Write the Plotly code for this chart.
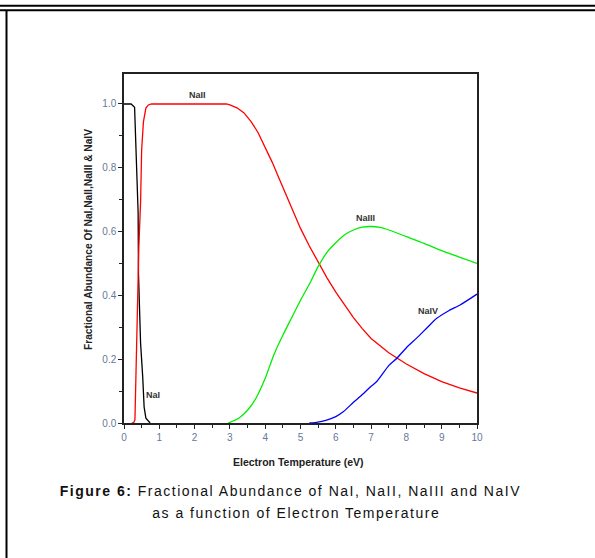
import plotly.graph_objects as go

# ---- data ----
nai_x = [0.0, 0.2, 0.3, 0.34, 0.40, 0.41, 0.45, 0.47, 0.53, 0.57, 0.62, 0.69, 0.74]
nai_y = [1.0, 1.0, 0.99, 0.88, 0.66, 0.47, 0.30, 0.25, 0.145, 0.05, 0.015, 0.004, 0.0]

naii_x = [0.22, 0.27, 0.31, 0.33, 0.38, 0.42, 0.47, 0.50, 0.55, 0.62, 0.69, 0.78, 1.5, 2.0, 2.5, 2.9,
          3.0, 3.2, 3.4, 3.6, 3.8, 4.0, 4.2, 4.4, 4.6, 4.8, 5.0, 5.25, 5.5, 5.75, 6.0, 6.25, 6.5,
          6.75, 7.0, 7.5, 8.0, 8.5, 9.0, 9.5, 10.0]
naii_y = [0.0, 0.0, 0.01, 0.12, 0.345, 0.55, 0.694, 0.856, 0.944, 0.987, 0.997, 1.0, 1.0, 1.0, 1.0, 1.0,
          0.997, 0.988, 0.972, 0.945, 0.91, 0.866, 0.817, 0.765, 0.712, 0.66, 0.61, 0.555, 0.505, 0.455,
          0.41, 0.368, 0.33, 0.296, 0.265, 0.22, 0.185, 0.155, 0.13, 0.11, 0.094]

naiii_x = [2.95, 3.0, 3.25, 3.5, 3.75, 4.0, 4.25, 4.5, 4.75, 5.0, 5.25, 5.5, 5.75, 6.0, 6.25, 6.5,
           6.75, 7.0, 7.25, 7.5, 8.0, 8.5, 9.0, 9.5, 10.0]
naiii_y = [0.0, 0.002, 0.015, 0.04, 0.08, 0.14, 0.215, 0.275, 0.33, 0.385, 0.435, 0.49, 0.535, 0.565,
           0.59, 0.605, 0.614, 0.616, 0.613, 0.605, 0.584, 0.563, 0.54, 0.52, 0.50]

naiv_x = [5.25, 5.45, 5.74, 6.0, 6.21, 6.5, 6.69, 7.0, 7.16, 7.5, 7.73, 8.0, 8.29, 8.6, 8.86, 9.2, 9.52, 10.0]
naiv_y = [0.0, 0.002, 0.009, 0.02, 0.035, 0.065, 0.083, 0.115, 0.13, 0.18, 0.203, 0.236, 0.266, 0.30,
          0.328, 0.352, 0.37, 0.404]

labels = ["NaI", "NaII", "NaIII", "NaIV"]
label_x = [0.82, 2.07, 6.83, 8.61]
label_y = [0.088, 1.028, 0.643, 0.351]

x_title = "Electron Temperature (eV)"
y_title = "Fractional Abundance Of NaI,NaII,NaIII & NaIV"
caption1 = "<b>Figure 6:</b> Fractional Abundance of NaI, NaII, NaIII and NaIV"
caption2 = "as a function of Electron Temperature"

# ---- figure ----
W, H = 595, 558
L, R, T, B = 124, 477, 74, 423  # plot area in pixels
FONT = "Liberation Sans, Arial, sans-serif"


def px(x):
    return (x - L) / (R - L)


def py(y):
    return (B - y) / (B - T)


fig = go.Figure()
series = [(nai_x, nai_y, "#000000", "linear"), (naii_x, naii_y, "#ff0000", "linear"),
          (naiii_x, naiii_y, "#00ee00", "spline"), (naiv_x, naiv_y, "#0000ff", "spline")]
for (xs, ys, c, shp), name in zip(series, labels):
    fig.add_trace(go.Scatter(x=xs, y=ys, mode="lines", name=name,
                             line=dict(color=c, width=1.3, shape=shp, smoothing=0.6),
                             showlegend=False))

tickfont = dict(family=FONT, size=10, color="#667799")
axis_common = dict(showgrid=False, zeroline=False, showline=True, linecolor="#222222",
                   linewidth=1.5, mirror=True, ticks="outside", ticklen=4, tickwidth=1.2,
                   tickcolor="#222222", tickfont=tickfont)
fig.update_xaxes(range=[0, 10], tickmode="linear", tick0=0, dtick=1,
                 minor=dict(dtick=0.5, ticks="outside", ticklen=3, tickwidth=1.2, tickcolor="#222222"),
                 **axis_common)
fig.update_yaxes(range=[0, 1.094], tickmode="array", tickvals=[0, 0.2, 0.4, 0.6, 0.8, 1.0],
                 ticktext=["0.0", "0.2", "0.4", "0.6", "0.8", "1.0"],
                 minor=dict(tickvals=[0.1, 0.3, 0.5, 0.7, 0.9], ticks="outside", ticklen=3,
                            tickwidth=1.2, tickcolor="#222222"),
                 **axis_common)

ann = []
for t, x, y in zip(labels, label_x, label_y):
    ann.append(dict(x=x, y=y, xref="x", yref="y", text="<b>%s</b>" % t, showarrow=False,
                    font=dict(family=FONT, size=9, color="#333333")))
ann.append(dict(x=px(298), y=py(462), xref="paper", yref="paper", text="<b>%s</b>" % x_title,
                xanchor="center", yanchor="middle", showarrow=False,
                font=dict(family=FONT, size=10.5, color="#222222")))
ann.append(dict(x=px(88), y=py(240), xref="paper", yref="paper", text="<b>%s</b>" % y_title,
                xanchor="center", yanchor="middle", textangle=-90, showarrow=False,
                font=dict(family=FONT, size=10.2, color="#222222")))
ann.append(dict(x=px(290), y=py(491), xref="paper", yref="paper", text=caption1, showarrow=False,
                xanchor="center", yanchor="middle",
                font=dict(family=FONT, size=14, color="#111111")))
ann.append(dict(x=px(296), y=py(513), xref="paper", yref="paper", text=caption2, showarrow=False,
                xanchor="center", yanchor="middle",
                font=dict(family=FONT, size=14, color="#111111")))

shapes = [
    dict(type="line", xref="paper", yref="paper", x0=px(0), x1=px(W), y0=py(5.8), y1=py(5.8),
         line=dict(color="#000000", width=2)),
    dict(type="line", xref="paper", yref="paper", x0=px(0), x1=px(W), y0=py(10.2), y1=py(10.2),
         line=dict(color="#000000", width=2)),
    dict(type="line", xref="paper", yref="paper", x0=px(6.5), x1=px(6.5), y0=py(10), y1=py(H),
         line=dict(color="#000000", width=2)),
]

fig.update_layout(width=W, height=H, margin=dict(l=L, r=W - R, t=T, b=H - B),
                  paper_bgcolor="white", plot_bgcolor="white",
                  annotations=ann, shapes=shapes)

# widen the letter spacing of the caption lines, as in the reference
post_js = """
var gd = document.getElementById('{plot_id}');
gd.querySelectorAll('text.annotation-text').forEach(function(t){
  var s = t.textContent;
  if (s.indexOf('Figure 6') === 0 || s.indexOf('as a function') === 0) {
    t.setAttribute('letter-spacing', '1.5px');
  }
});
"""

fig.write_html("out.html", post_script=post_js)
